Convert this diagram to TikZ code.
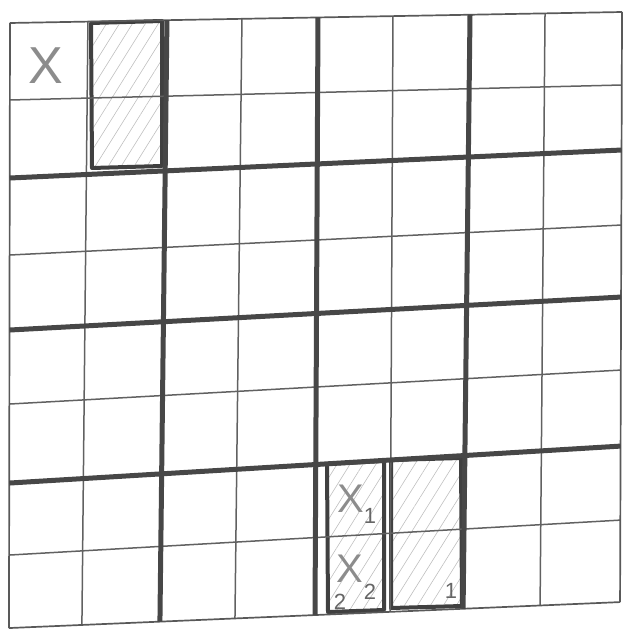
\documentclass[tikz,border=0pt]{standalone}
\usepackage{fontspec}
\setmainfont{Liberation Sans}
\usetikzlibrary{calc,patterns.meta}
\begin{document}
\begin{tikzpicture}[x=0.5pt,y=-0.5pt,
  thinline/.style={draw=black!62,line width=0.75pt},
  thickline/.style={draw=black!72,line width=2.5pt},
  borderline/.style={draw=black!65,line width=0.85pt},
  hatchbox/.style={draw=black!75,line width=2pt,line join=round,
    pattern={Lines[angle=58,distance=5.5pt,line width=0.3pt]},pattern color=black!25},
  bigx/.style={text=black!45,inner sep=0pt,font=\fontsize{26}{26}\selectfont},
  midx/.style={text=black!45,inner sep=0pt,font=\fontsize{20}{20}\selectfont},
  subnum/.style={text=black!60,inner sep=0pt,font=\fontsize{11}{11}\selectfont}]
\useasboundingbox (0,0) rectangle (627,630);
% hand-drawn line data: horizontal lines (y at x=10, y at x=622),
% vertical lines (x at y=15, x at y=615)
\def\YL{{23,100,178,255,330,404,483,555,628}}
\def\YR{{12,85,150,225,297,370,446,520,602}}
\def\XT{{10,88,167,242,318,393,470,545,622}}
\def\XB{{9,82,160,235,315,390,463,540,620}}
\foreach \u in {0,...,8}{
  \foreach \v in {0,...,8}{
    \pgfmathsetmacro\xt{\XT[\u]}
    \pgfmathsetmacro\xb{\XB[\u]}
    \pgfmathsetmacro\yl{\YL[\v]}
    \pgfmathsetmacro\yr{\YR[\v]}
    \pgfmathsetmacro\sh{(\yr-\yl)/612}
    \pgfmathsetmacro\sv{(\xb-\xt)/600}
    \pgfmathsetmacro\ya{\yl+\sh*(\xt-10)}
    \pgfmathsetmacro\xa{\xt+\sv*(\ya-15)}
    \pgfmathsetmacro\yb{\yl+\sh*(\xa-10)}
    \pgfmathsetmacro\xc{\xt+\sv*(\yb-15)}
    \pgfmathsetmacro\yc{\yl+\sh*(\xc-10)}
    \coordinate (g\u-\v) at (\xc,\yc);
  }
}
% hatched boxes
\coordinate (a1) at (91,23);  \coordinate (a2) at (162,21);
\coordinate (a3) at (162,166); \coordinate (a4) at (92,168);
\draw[hatchbox] (a1) -- (a2) -- (a3) -- (a4) -- cycle;
\coordinate (b1) at (327,464); \coordinate (b2) at (384,461);
\coordinate (b3) at (384,610); \coordinate (b4) at (328,612);
\draw[hatchbox] (b1) -- (b2) -- (b3) -- (b4) -- cycle;
\coordinate (c1) at (391,460); \coordinate (c2) at (461,458);
\coordinate (c3) at (462,606); \coordinate (c4) at (391,608);
\draw[hatchbox] (c1) -- (c2) -- (c3) -- (c4) -- cycle;
% grid lines
\foreach \v in {1,3,5,7}{\draw[thinline] (g0-\v) -- (g8-\v);}
\foreach \u in {1,3,5,7}{\draw[thinline] (g\u-0) -- (g\u-8);}
\foreach \v in {0,8}{\draw[borderline] (g0-\v) -- (g8-\v);}
\foreach \u in {0,8}{\draw[borderline] (g\u-0) -- (g\u-8);}
\foreach \v in {2,4,6}{\draw[thickline] (g0-\v) -- (g8-\v);}
\foreach \u in {2,4,6}{\draw[thickline] (g\u-0) -- (g\u-8);}
% texts
\node[bigx] (x0) at (46,66) {X};
\node[midx] (x1) at (351,499) {X};
\node[subnum] (s1) at (370,516) {1};
\node[midx] (x2) at (350,569) {X};
\node[subnum] (s2) at (370,592) {2};
\node[subnum] (n2) at (340,602) {2};
\node[subnum] (n1) at (451,591) {1};
\end{tikzpicture}
\end{document}
